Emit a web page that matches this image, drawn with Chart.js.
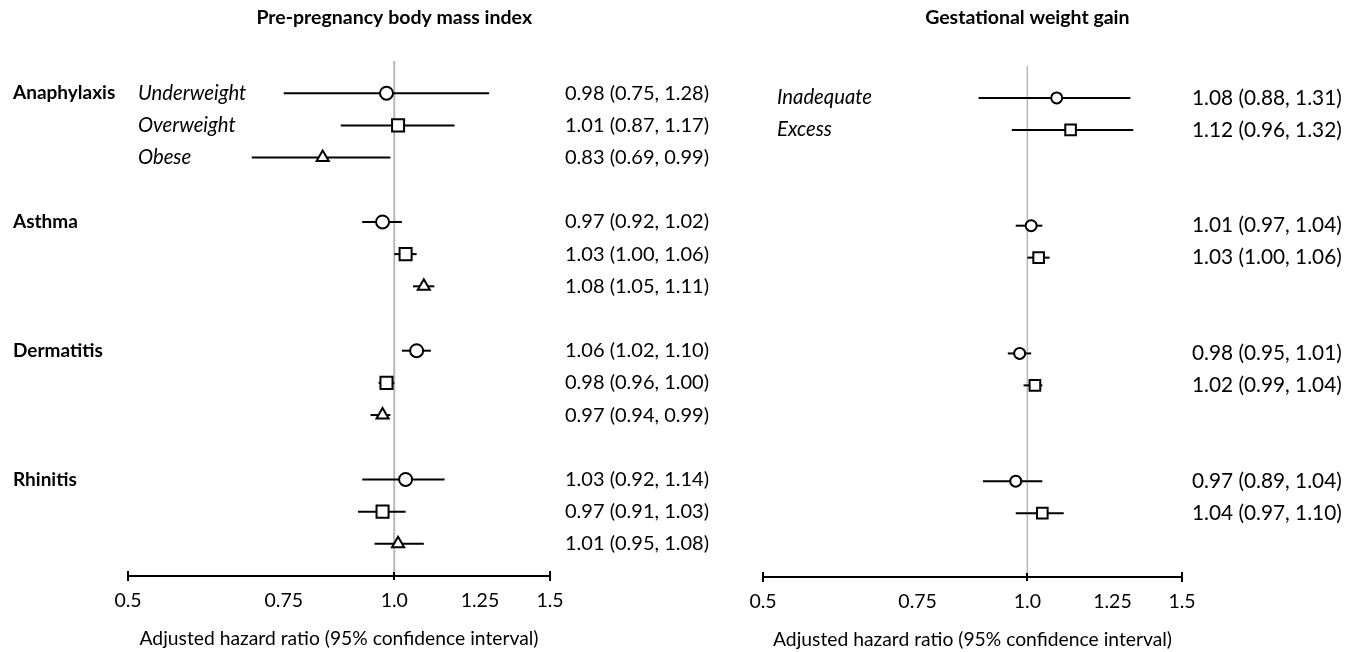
<!DOCTYPE html>
<html>
<head>
<meta charset="utf-8">
<script src="https://cdn.jsdelivr.net/npm/chart.js@4.4.1/dist/chart.umd.min.js"></script>
<style>
  html, body { margin: 0; padding: 0; background: #fff; }
  #wrap { position: relative; width: 1358px; height: 652px; overflow: hidden; }
  .panel { position: absolute; top: 0; height: 652px; }
</style>
</head>
<body>
<div id="wrap">
  <div class="panel" style="left:0;width:750px"><canvas id="bmiChart" width="750" height="652"></canvas></div>
  <div class="panel" style="left:750px;width:608px"><canvas id="gwgChart" width="608" height="652"></canvas></div>
</div>
<script>
// outcomes and exposure groups
const outcomes = ['Anaphylaxis', 'Asthma', 'Dermatitis', 'Rhinitis']
const bmiGroups = ['Underweight', 'Overweight', 'Obese']
const gwgGroups = ['Inadequate', 'Excess']

// adjusted hazard ratios, rows = outcomes, cols = groups
const bmiHR = [[0.98, 1.01, 0.83], [0.97, 1.03, 1.08], [1.06, 0.98, 0.97], [1.03, 0.97, 1.01]]
const bmiLo = [[0.75, 0.87, 0.69], [0.92, 1.00, 1.05], [1.02, 0.96, 0.94], [0.92, 0.91, 0.95]]
const bmiHi = [[1.28, 1.17, 0.99], [1.02, 1.06, 1.11], [1.10, 1.00, 0.99], [1.14, 1.03, 1.08]]

const gwgHR = [[1.08, 1.12], [1.01, 1.03], [0.98, 1.02], [0.97, 1.04]]
const gwgLo = [[0.88, 0.96], [0.97, 1.00], [0.95, 0.99], [0.89, 0.97]]
const gwgHi = [[1.31, 1.32], [1.04, 1.06], [1.01, 1.04], [1.04, 1.10]]

// x axis
const tickValues = [0.5, 0.75, 1.0, 1.25, 1.5]
const tickLabels = ['0.5', '0.75', '1.0', '1.25', '1.5']
const capValues = [0.5, 1.0, 1.5]
const markerStyles = ['circle', 'rect', 'triangle']

const FONT = 'Lato, "Open Sans", sans-serif'

function rowOf(g, i) {
    return g * 4 + i
}

function fmt(hr, lo, hi) {
    return hr.toFixed(2) + ' (' + lo.toFixed(2) + ', ' + hi.toFixed(2) + ')'
}

function makeForest(id, cfg) {
    const ctx = document.getElementById(id).getContext('2d')

    let points = []
    let styles = []
    let radii = []
    let datasets = []

    cfg.hr.map((row, g) => {
        row.map((v, i) => {
            const y = rowOf(g, i)
            points.push({ x: v, y: y })
            styles.push(markerStyles[i])
            radii.push(cfg.radius[i])
            datasets.push({
                data: [{ x: cfg.lo[g][i], y: y }, { x: cfg.hi[g][i], y: y }],
                showLine: true,
                borderColor: '#000',
                borderWidth: 2,
                pointRadius: 0,
                order: 1
            })
        })
    })

    datasets.unshift({
        data: points,
        pointStyle: styles,
        pointRadius: radii,
        backgroundColor: '#fff',
        borderColor: '#000',
        borderWidth: 2,
        order: 0
    })

    datasets.push({
        data: [{ x: 1, y: -1 }, { x: 1, y: 15 }],
        showLine: true,
        borderColor: '#b8b8b8',
        borderWidth: cfg.refWidth,
        pointRadius: 0,
        order: 2
    })

    const textPlugin = {
        id: 'forestText',
        afterDraw(chart) {
            const c = chart.ctx
            const xs = chart.scales.x
            const ys = chart.scales.y
            const area = chart.chartArea
            c.save()
            c.fillStyle = '#000'
            c.strokeStyle = '#000'
            c.textBaseline = 'middle'

            // axis line and caps
            c.lineWidth = 2
            c.beginPath()
            c.moveTo(xs.left, area.bottom)
            c.lineTo(xs.right, area.bottom)
            c.stroke()
            capValues.map((v) => {
                const px = Math.round(xs.getPixelForValue(v))
                const h = v == 1 ? 4 : 5
                c.beginPath()
                c.moveTo(px, area.bottom - h)
                c.lineTo(px, area.bottom + h)
                c.stroke()
            })

            // tick labels
            c.font = '19.5px ' + FONT
            c.textAlign = 'center'
            tickValues.map((v, k) => {
                c.fillText(tickLabels[k], xs.getPixelForValue(v), area.bottom + 25)
            })
            c.font = '19.3px ' + FONT
            c.fillText('Adjusted hazard ratio (95% confidence interval)', (xs.left + xs.right) / 2, area.bottom + 63)

            // panel title
            c.font = 'bold 19.5px ' + FONT
            c.fillText(cfg.title, xs.getPixelForValue(1), 18)

            // outcome names
            c.textAlign = 'left'
            if (cfg.showOutcomes) {
                c.font = 'bold 19px ' + FONT
                outcomes.map((name, g) => {
                    c.fillText(name, cfg.outcomeX, ys.getPixelForValue(rowOf(g, 0)))
                })
            }

            // group names (first outcome only)
            c.font = 'italic 20.3px ' + FONT
            cfg.groups.map((name, i) => {
                c.fillText(name, cfg.groupX, ys.getPixelForValue(rowOf(0, i)))
            })

            // estimates
            c.font = cfg.textSize + 'px ' + FONT
            cfg.hr.map((row, g) => {
                row.map((v, i) => {
                    c.fillText(fmt(v, cfg.lo[g][i], cfg.hi[g][i]), cfg.textX, ys.getPixelForValue(rowOf(g, i)))
                })
            })
            c.restore()
        }
    }

    return new Chart(ctx, {
        type: 'scatter',
        data: { datasets: datasets },
        options: {
            responsive: false,
            animation: false,
            layout: { padding: cfg.padding },
            plugins: {
                legend: { display: false },
                tooltip: { enabled: false }
            },
            scales: {
                x: { type: 'logarithmic', min: 0.5, max: 1.5, display: false },
                y: { type: 'linear', min: -1, max: 15, reverse: true, display: false }
            }
        },
        plugins: [textPlugin]
    })
}

makeForest('bmiChart', {
    title: 'Pre-pregnancy body mass index',
    groups: bmiGroups,
    hr: bmiHR, lo: bmiLo, hi: bmiHi,
    radius: [6.5, 8.5, 7],
    refWidth: 2,
    padding: { left: 128, right: 200, top: 61, bottom: 76 },
    showOutcomes: true,
    outcomeX: 13,
    groupX: 138,
    textX: 565,
    textSize: 20
})

makeForest('gwgChart', {
    title: 'Gestational weight gain',
    groups: gwgGroups,
    hr: gwgHR, lo: gwgLo, hi: gwgHi,
    radius: [5.5, 7.5, 6],
    refWidth: 1.5,
    padding: { left: 13, right: 176, top: 66, bottom: 75 },
    showOutcomes: false,
    outcomeX: 0,
    groupX: 27,
    textX: 442,
    textSize: 20.8
})
</script>
</body>
</html>
